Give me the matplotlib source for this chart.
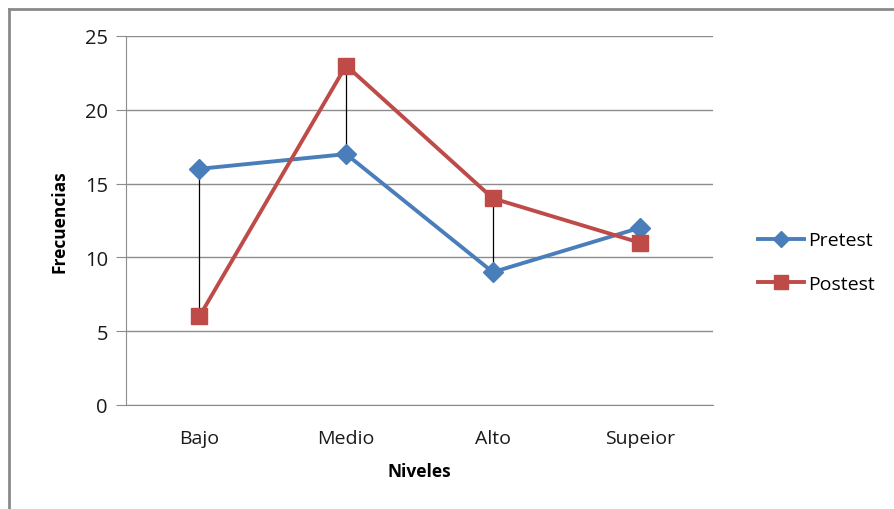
import matplotlib.pyplot as plt
from matplotlib.lines import Line2D

niveles = ["Bajo", "Medio", "Alto", "Supeior"]
pretest = [16, 17, 9, 12]
postest = [6, 23, 14, 11]
y_ticks = [0, 5, 10, 15, 20, 25]

plt.rcParams["font.family"] = ["Open Sans", "DejaVu Sans"]

fig = plt.figure(figsize=(8.94, 5.1), dpi=100)
ax = fig.add_axes([126 / 894, 1 - 406 / 510, (713 - 126) / 894, (406 - 37) / 510])

x = list(range(len(niveles)))
grid_c = "#8c8c8c"

# lineas max-min entre series
for xi, a, b in zip(x, pretest, postest):
    ax.plot([xi, xi], [min(a, b), max(a, b)], color="black", lw=0.9, zorder=2)

ax.plot(x, pretest, color="#4A7EBB", lw=2.8, marker="D", ms=10,
        markeredgecolor="#4A7EBB", label="Pretest", zorder=3)
ax.plot(x, postest, color="#BE4B48", lw=2.8, marker="s", ms=12,
        markeredgecolor="#BE4B48", label="Postest", zorder=3)

ax.set_xlim(-0.5, len(niveles) - 0.5)
ax.set_ylim(0, 25)
ax.set_yticks(y_ticks)
ax.set_xticks(x)
ax.set_xticklabels(niveles)
ax.yaxis.grid(True, color=grid_c, lw=1.0)
ax.set_axisbelow(True)

for s in ["top", "right"]:
    ax.spines[s].set_visible(False)
ax.spines["left"].set_color(grid_c)
ax.spines["bottom"].set_color(grid_c)
ax.tick_params(axis="y", length=7, color=grid_c, labelsize=14.5, labelcolor="#1a1a1a", pad=6)
ax.tick_params(axis="x", length=0, labelsize=14, labelcolor="#1a1a1a", pad=17)

ax.set_xlabel("Niveles", fontsize=12.5, fontweight="bold", labelpad=11)
ax.set_ylabel("Frecuencias", fontsize=12.5, fontweight="bold", labelpad=12)

handles = [
    Line2D([], [], color="#4A7EBB", lw=2.8, marker="D", ms=8),
    Line2D([], [], color="#BE4B48", lw=2.8, marker="s", ms=10),
]
fig.legend(handles, ["Pretest", "Postest"], loc="center left",
           bbox_to_anchor=(740 / 894, 1 - 263 / 510), frameon=False,
           fontsize=14, handlelength=2.4, labelspacing=1.3, handletextpad=0.2)

# marco exterior
fig.add_artist(Line2D([9 / 894, 9 / 894], [0, 1 - 10 / 510], transform=fig.transFigure,
                      color="#8a8a8a", lw=2))
fig.add_artist(Line2D([9 / 894, 1], [1 - 10 / 510, 1 - 10 / 510], transform=fig.transFigure,
                      color="#8a8a8a", lw=2))

fig.savefig("out.png", dpi=100)
